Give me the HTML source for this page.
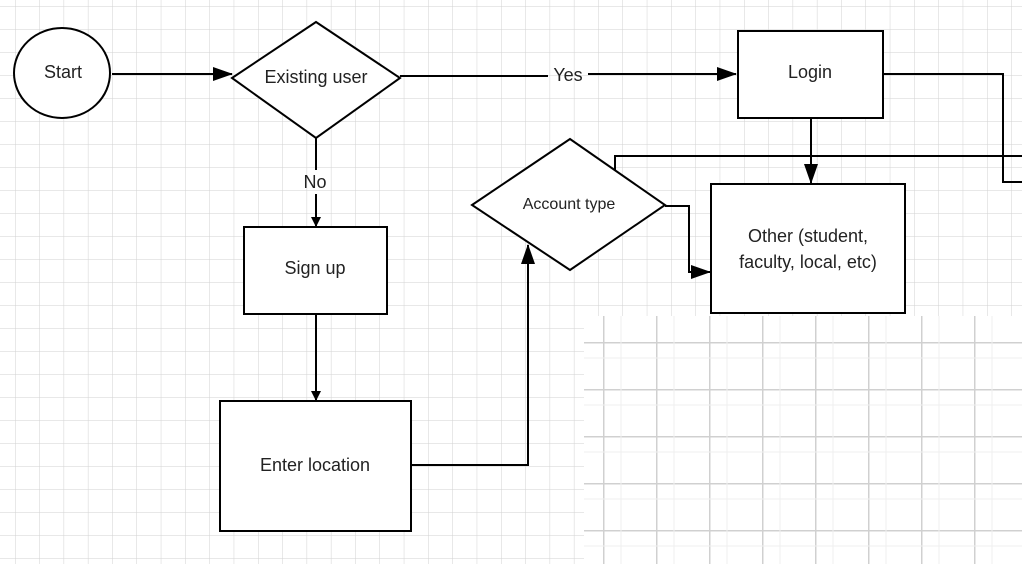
<!DOCTYPE html>
<html><head><meta charset="utf-8"><style>
html,body{margin:0;padding:0;background:#fff;}
svg{display:block;font-family:"Liberation Sans",sans-serif;}
</style></head><body>
<svg width="1022" height="564" viewBox="0 0 1022 564" xmlns="http://www.w3.org/2000/svg">
<defs>
<pattern id="g" x="15" y="6" width="24.3" height="23" patternUnits="userSpaceOnUse">
<path d="M0 0V23M0 0H24.3" stroke="#d2d2d2" stroke-width="1" fill="none"/>
</pattern>
<pattern id="g2" x="603" y="342" width="53" height="47" patternUnits="userSpaceOnUse">
<path d="M0 0V47M0 0H53" stroke="#d0d0d0" stroke-width="3" fill="none"/>
<path d="M18 0V47M0 16H53" stroke="#efefef" stroke-width="1" fill="none"/>
</pattern>
<marker id="a" markerWidth="10" markerHeight="10" refX="9" refY="5" orient="auto" markerUnits="userSpaceOnUse">
<path d="M0 0L10 5L0 10z" fill="#000"/></marker>
<marker id="b" markerWidth="20" markerHeight="14" refX="19" refY="7" orient="auto" markerUnits="userSpaceOnUse">
<path d="M0 0L20 7L0 14z" fill="#000"/></marker>
</defs>
<rect width="1022" height="564" fill="url(#g)"/>
<rect x="584" y="316" width="438" height="248" fill="#fff"/>
<rect x="584" y="316" width="438" height="248" fill="url(#g2)"/>
<g stroke="#000" stroke-width="2" fill="none">
<line x1="112" y1="74" x2="232" y2="74" marker-end="url(#b)"/>
<line x1="400" y1="76" x2="548" y2="76"/>
<line x1="588" y1="74" x2="736" y2="74" marker-end="url(#b)"/>
<line x1="316" y1="138" x2="316" y2="170"/>
<line x1="316" y1="194" x2="316" y2="226" marker-end="url(#a)"/>
<line x1="316" y1="314" x2="316" y2="400" marker-end="url(#a)"/>
<polyline points="411,465 528,465 528,245" marker-end="url(#b)"/>
<line x1="811" y1="118" x2="811" y2="183" marker-end="url(#b)"/>
<polyline points="883,74 1003,74 1003,182 1022,182"/>
<polyline points="615,170 615,156 1022,156"/>
<polyline points="665,206 689,206 689,272 710,272" marker-end="url(#b)"/>
</g>
<g stroke="#000" stroke-width="2" fill="#fff">
<ellipse cx="62" cy="73" rx="48" ry="45"/>
<polygon points="232,78 316,22 400,78 316,138"/>
<rect x="738" y="31" width="145" height="87"/>
<rect x="244" y="227" width="143" height="87"/>
<rect x="220" y="401" width="191" height="130"/>
<polygon points="472,205 570,139 665,205 570,270"/>
<rect x="711" y="184" width="194" height="129"/>
</g>
<g font-size="18" fill="#222" text-anchor="middle">
<text x="63" y="78">Start</text>
<text x="316" y="83">Existing user</text>
<text x="568" y="81">Yes</text>
<text x="810" y="78">Login</text>
<text x="315" y="188">No</text>
<text x="315" y="274">Sign up</text>
<text x="315" y="471">Enter location</text>
<text x="569" y="209" font-size="16">Account type</text>
<text x="808" y="242">Other (student,</text>
<text x="808" y="268">faculty, local, etc)</text>
</g>
</svg>
</body></html>
